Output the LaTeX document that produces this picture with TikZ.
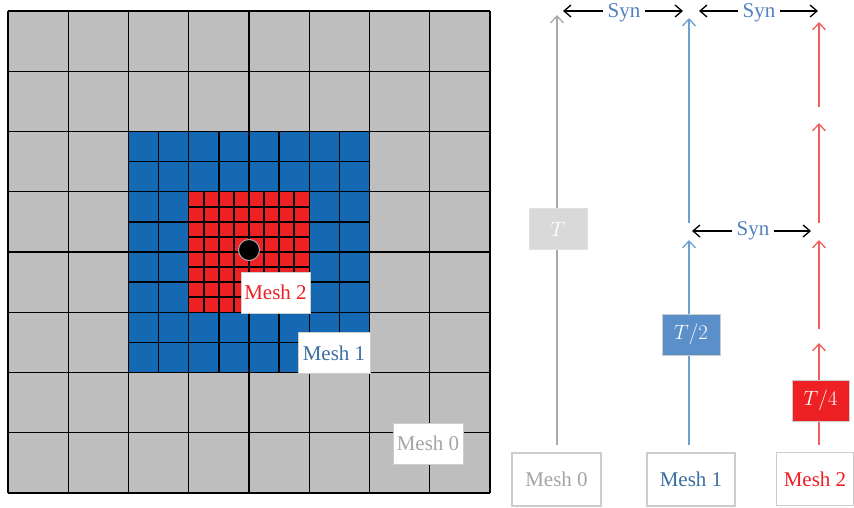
\documentclass[tikz,border=0pt]{standalone}
\usepackage{fontspec}
\setmainfont{Liberation Serif}
\usetikzlibrary{arrows.meta}
\definecolor{cgray}{RGB}{190,190,190}
\definecolor{cblue}{RGB}{21,104,178}
\definecolor{cred}{RGB}{237,32,36}
\definecolor{tgray}{RGB}{217,217,217}
\definecolor{tblue}{RGB}{91,143,201}
\definecolor{bord}{RGB}{205,205,205}
\definecolor{txgray}{RGB}{165,165,165}
\definecolor{txblue}{RGB}{60,110,160}
\definecolor{synblue}{RGB}{80,130,190}
\definecolor{lgray}{RGB}{170,170,170}
\definecolor{lblue}{RGB}{110,160,210}
\definecolor{lred}{RGB}{240,95,95}
\begin{document}
\begin{tikzpicture}[x=1pt,y=-1pt,
  every node/.style={font=\fontsize{21}{25}\selectfont},
  gridline/.style={black,line width=1.4pt},
  lbl/.style={draw=bord,fill=white,line width=1pt,inner sep=0pt,minimum width=70pt,minimum height=41pt},
  meshbox/.style={draw=bord,fill=white,line width=1.2pt,inner sep=0pt,minimum height=53pt},
  tbox/.style={draw=bord,line width=1pt,inner sep=0pt,minimum width=58pt,minimum height=41pt,text=white},
  tl/.style={line width=1.3pt},
  tarr/.style={tl,-{Straight Barb[length=7pt,width=13pt,line width=1.3pt]}},
  synarr/.style={black,line width=1.3pt,-{Straight Barb[length=7pt,width=12pt,line width=1.3pt]}},
  syn/.style={text=synblue,inner sep=4pt}]
\useasboundingbox (0,0) rectangle (854,507);
% grid
\def\xo{8}\def\yo{11}\def\c{60.25}
\fill[cgray] (\xo,\yo) rectangle ({\xo+8*\c},{\yo+8*\c});
\fill[cblue] ({\xo+2*\c},{\yo+2*\c}) rectangle ({\xo+6*\c},{\yo+6*\c});
\fill[cred] ({\xo+3*\c},{\yo+3*\c}) rectangle ({\xo+5*\c},{\yo+5*\c});
\foreach \i in {0,...,8}{
  \draw[gridline] ({\xo+\i*\c},\yo) -- ({\xo+\i*\c},{\yo+8*\c});
  \draw[gridline] (\xo,{\yo+\i*\c}) -- ({\xo+8*\c},{\yo+\i*\c});
}
\foreach \i in {0,...,8}{
  \draw[gridline] ({\xo+2*\c+\i*\c/2},{\yo+2*\c}) -- ({\xo+2*\c+\i*\c/2},{\yo+6*\c});
  \draw[gridline] ({\xo+2*\c},{\yo+2*\c+\i*\c/2}) -- ({\xo+6*\c},{\yo+2*\c+\i*\c/2});
  \draw[gridline] ({\xo+3*\c+\i*\c/4},{\yo+3*\c}) -- ({\xo+3*\c+\i*\c/4},{\yo+5*\c});
  \draw[gridline] ({\xo+3*\c},{\yo+3*\c+\i*\c/4}) -- ({\xo+5*\c},{\yo+3*\c+\i*\c/4});
}
\node[circle,fill=black,draw=lgray,line width=1pt,minimum size=21pt,inner sep=0pt] (dot) at (249,250) {};
\node[lbl,text=cred,minimum width=69pt] (l2) at (275.5,292.5) {Mesh 2};
\node[lbl,text=txblue,minimum width=72pt] (l1) at (334,353) {Mesh 1};
\node[lbl,text=txgray] (l0) at (428,443.5) {Mesh 0};
% timelines
\node[meshbox,minimum width=89pt,text=txgray] (m0) at (556.5,479.5) {Mesh 0};
\node[meshbox,minimum width=88pt,text=txblue] (m1) at (691,479.5) {Mesh 1};
\node[meshbox,minimum width=77pt,text=cred] (m2) at (815,479) {Mesh 2};
\node[tbox,fill=tgray,draw=tgray!80!white] (t0) at (558,229) {$T$};
\node[tbox,fill=tblue] (t1) at (691,334.5) {$T/2$};
\node[tbox,fill=cred,minimum width=57pt] (t2) at (820.5,400.5) {$T/4$};
% gray
\coordinate (g1) at (557,15);
\draw[tl,lgray,shorten <=7pt] (m0.north -| g1) -- (t0.south -| g1);
\draw[tarr,lgray] (t0.north -| g1) -- (g1);
% blue
\coordinate (b0) at (689,240);
\coordinate (b1s) at (689,223);
\coordinate (b1) at (689,18);
\draw[tl,lblue,shorten <=7pt] (m1.north -| b0) -- (t1.south -| b0);
\draw[tarr,lblue] (t1.north -| b0) -- (b0);
\draw[tarr,lblue] (b1s) -- (b1);
% red
\coordinate (r0) at (819,343);
\coordinate (r1s) at (819,329);
\coordinate (r1) at (819,240);
\coordinate (r2s) at (819,223);
\coordinate (r2) at (819,123);
\coordinate (r3s) at (819,107);
\coordinate (r3) at (819,22);
\draw[tl,lred,shorten <=7pt] (m2.north -| r0) -- (t2.south -| r0);
\draw[tarr,lred] (t2.north -| r0) -- (r0);
\draw[tarr,lred] (r1s) -- (r1);
\draw[tarr,lred] (r2s) -- (r2);
\draw[tarr,lred] (r3s) -- (r3);
% syn
\node[syn] (s1) at (624,12.5) {Syn};
\coordinate (s1l) at (563,11);
\coordinate (s1r) at (683,11);
\draw[synarr] (s1.west |- s1l) -- (s1l);
\draw[synarr] (s1.east |- s1r) -- (s1r);
\node[syn] (s2) at (759,12.5) {Syn};
\coordinate (s2l) at (699,11);
\coordinate (s2r) at (818,11);
\draw[synarr] (s2.west |- s2l) -- (s2l);
\draw[synarr] (s2.east |- s2r) -- (s2r);
\node[syn] (s3) at (753,231) {Syn};
\coordinate (s3l) at (692,231);
\coordinate (s3r) at (811,231);
\draw[synarr] (s3.west |- s3l) -- (s3l);
\draw[synarr] (s3.east |- s3r) -- (s3r);
\end{tikzpicture}
\end{document}
